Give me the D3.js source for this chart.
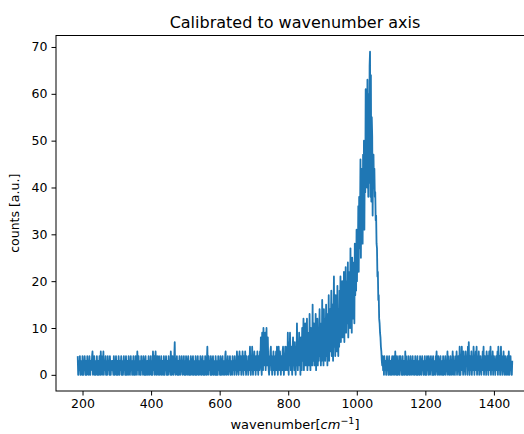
<!DOCTYPE html>
<html>
<head>
<meta charset="utf-8">
<script src="https://cdn.jsdelivr.net/npm/d3@7"></script>
<style>
    body { margin: 0; background: #fff; }
    svg { display: block; font-family: "DejaVu Sans", sans-serif; }
</style>
</head>
<body>
<div id="chart"></div>
<script>
// calibrated wavenumber axis: first pixel and spacing (cm^-1)
const wnStart = 186;
const wnStep = 1.2688;

// counts per detector pixel (40 values per row, ~50 cm^-1 each)
const counts = [
    4,0,2,3,1,4,0,2,1,3, 0,4,2,0,3,1,4,2,0,3, 1,0,4,2,3,0,1,4,2,0, 3,1,2,4,5,0,3,1,4,0,
    2,0,3,1,4,0,2,3,0,1, 4,2,0,5,1,3,0,4,2,5, 0,3,1,2,4,0,3,1,0,4, 2,1,3,0,4,2,0,3,1,2,
    3,1,0,4,2,0,3,1,4,0, 2,3,0,1,4,2,0,3,1,2, 4,0,3,1,0,2,4,1,3,0, 2,4,0,1,3,2,0,4,1,3,
    0,2,4,1,3,0,2,1,4,0, 3,2,0,4,1,3,0,5,2,1, 4,0,3,1,2,0,4,2,1,3, 0,4,1,2,0,3,4,0,2,1,
    3,0,2,4,1,0,3,2,4,0, 1,3,0,5,2,1,4,0,3,5, 1,0,2,4,3,0,1,4,2,0, 3,1,4,0,2,3,1,0,4,2,
    0,3,1,4,2,0,3,1,0,4, 2,3,1,0,5,2,0,3,4,1, 0,2,4,7,1,0,3,2,4,0, 1,3,0,2,4,1,0,3,2,4,
    1,0,3,2,4,0,1,3,0,4, 2,1,0,3,4,2,0,1,3,0, 4,2,1,0,3,4,0,2,1,3, 0,4,2,0,3,1,4,0,2,1,
    3,0,4,1,2,0,3,4,1,0, 2,3,0,4,1,2,0,3,6,1, 0,4,2,1,3,0,4,2,0,1, 3,4,0,2,1,3,0,4,2,0,
    1,3,0,4,2,1,3,0,4,2, 0,1,3,4,0,2,1,3,0,4, 5,1,0,3,2,4,0,1,3,2, 4,0,2,1,3,0,4,2,1,3,
    0,4,2,1,3,0,5,2,4,1, 0,3,5,1,2,4,0,3,1,5, 2,0,4,3,1,5,2,0,4,1, 3,2,0,4,1,3,6,2,0,4,
    1,6,3,0,4,2,5,1,3,0, 4,2,1,5,3,0,4,2,1,5, 3,8,2,0,9,4,1,10,3,6, 2,9,1,4,10,2,5,8,3,1,
    0,4,2,5,6,1,3,0,4,2, 5,1,3,0,4,2,5,1,6,3, 0,4,6,2,1,5,3,0,4,2, 1,5,6,2,0,4,3,6,1,5,
    2,6,1,9,3,0,7,2,9,4, 1,6,3,0,5,8,2,4,1,7, 3,0,6,2,11,4,1,7,3,9, 2,5,0,8,4,1,10,3,6,12,
    1,8,3,11,2,6,4,12,1,7, 3,9,2,13,5,1,10,4,8,2, 15,3,6,11,2,9,4,13,1,7, 5,12,2,10,3,8,14,4,6,2,
    11,3,16,6,9,2,14,5,12,3, 8,15,4,10,2,13,7,17,3,9, 14,5,11,18,4,8,15,3,12,21, 6,10,4,17,8,13,5,19,9,4,
    14,6,18,9,21,7,15,11,20,8, 17,10,22,7,19,12,23,9,16,20, 11,24,8,18,13,22,10,27,14,21, 9,25,12,19,15,24,11,28,17,22,
    18,31,20,29,24,36,22,38,27,33, 46,25,41,30,44,28,47,34,50,31, 48,39,61,42,58,40,63,45,38,60, 41,66,69,38,64,37,55,51,34,46,
    47,40,44,38,39,33,34,28,27,21, 22,16,17,12,11,9,8,6,5,3, 2,4,1,3,0,4,2,1,3,0, 2,4,1,3,0,2,4,1,0,3,
    2,0,3,4,1,0,2,4,3,0, 5,1,3,0,4,2,0,3,1,4, 0,2,4,1,3,0,2,4,0,1, 3,2,0,5,1,4,0,3,2,0,
    4,1,3,0,2,4,1,0,3,2, 4,0,1,3,2,0,4,1,3,0, 2,4,0,3,1,2,0,4,3,1, 0,2,4,1,3,0,2,1,4,0,
    3,0,2,4,1,3,0,4,2,1, 0,3,4,1,2,0,3,4,0,2, 1,3,0,4,2,5,1,0,3,4, 2,0,1,3,4,0,2,1,3,0,
    4,1,0,3,2,4,0,1,3,2, 5,0,4,1,3,0,2,4,1,0, 3,2,5,0,4,1,3,0,2,4, 1,5,0,3,2,4,1,0,6,2,
    0,4,2,6,1,3,0,5,2,4, 1,0,5,3,2,4,0,6,1,7, 2,0,4,3,1,5,0,2,4,1, 6,3,0,4,2,5,1,6,0,3,
    4,1,5,0,3,2,4,1,0,3, 2,5,1,6,0,3,4,1,2,0, 5,3,1,4,0,2,5,1,3,6, 0,4,2,1,5,0,3,4,1,2,
    0,3,4,1,2,5,0,6,3,1, 4,0,2,6,1,3,0,4,2,5, 1,0,3,4,2,0,1,3,4,0, 2,5,1,0,3,4,1,2,0,3
];

const xTicks = [200, 400, 600, 800, 1000, 1200, 1400];
const yTicks = [0, 10, 20, 30, 40, 50, 60, 70];

const title = 'Calibrated to wavenumber axis';
const yTitle = 'counts [a.u.]';

const width = 524, height = 434;
const margin = {top: 35.5, right: -10, bottom: 43, left: 56};

const svg = d3.select('#chart').append('svg')
    .attr('width', width)
    .attr('height', height);

const points = counts.map((c, i) => ({wn: wnStart + i * wnStep, c: c}));

// matplotlib-like 5% margins on both axes
const xExt = d3.extent(points, d => d.wn);
const yExt = d3.extent(points, d => d.c);
const xPad = (xExt[1] - xExt[0]) * 0.05;
const yPad = (yExt[1] - yExt[0]) * 0.05;

const x = d3.scaleLinear()
    .domain([xExt[0] - xPad, xExt[1] + xPad])
    .range([margin.left, width - margin.right]);
const y = d3.scaleLinear()
    .domain([yExt[0] - yPad, yExt[1] + yPad])
    .range([height - margin.bottom, margin.top]);

const line = d3.line()
    .x(d => x(d.wn))
    .y(d => y(d.c));

svg.append('path')
    .datum(points)
    .attr('fill', 'none')
    .attr('stroke', '#1f77b4')
    .attr('stroke-width', 1.8)
    .attr('stroke-linejoin', 'round')
    .attr('d', line);

// frame (right edge falls outside the picture, as in the original)
svg.append('rect')
    .attr('x', margin.left)
    .attr('y', margin.top)
    .attr('width', width - margin.right - margin.left)
    .attr('height', height - margin.bottom - margin.top)
    .attr('fill', 'none')
    .attr('stroke', '#000')
    .attr('stroke-width', 1);

const xAxis = svg.append('g')
    .attr('transform', `translate(0,${height - margin.bottom})`)
    .call(d3.axisBottom(x).tickValues(xTicks).tickFormat(d3.format('d')).tickSize(4.5).tickPadding(4));
const yAxis = svg.append('g')
    .attr('transform', `translate(${margin.left},0)`)
    .call(d3.axisLeft(y).tickValues(yTicks).tickFormat(d3.format('d')).tickSize(4.5).tickPadding(4));

for (const ax of [xAxis, yAxis]) {
    ax.select('.domain').remove();
    ax.selectAll('text')
        .attr('font-family', '"DejaVu Sans", sans-serif')
        .attr('font-size', 12.5)
        .attr('fill', '#000');
    ax.selectAll('line').attr('stroke', '#000');
}

svg.append('text')
    .attr('x', (margin.left + width - margin.right) / 2)
    .attr('y', 28)
    .attr('text-anchor', 'middle')
    .attr('font-size', 16)
    .text(title);

// x label with mathtext-like italic and superscript
const xl = svg.append('text')
    .attr('x', (margin.left + width - margin.right) / 2)
    .attr('y', 429)
    .attr('text-anchor', 'middle')
    .attr('font-size', 13);
xl.append('tspan').text('wavenumber[');
xl.append('tspan').attr('font-style', 'italic').text('cm');
xl.append('tspan').attr('font-size', 9.5).attr('dy', -5).text('\u22121');
xl.append('tspan').attr('dy', 5).text(']');

svg.append('text')
    .attr('transform', `translate(19,${(margin.top + height - margin.bottom) / 2}) rotate(-90)`)
    .attr('text-anchor', 'middle')
    .attr('font-size', 12.5)
    .text(yTitle);
</script>
</body>
</html>
